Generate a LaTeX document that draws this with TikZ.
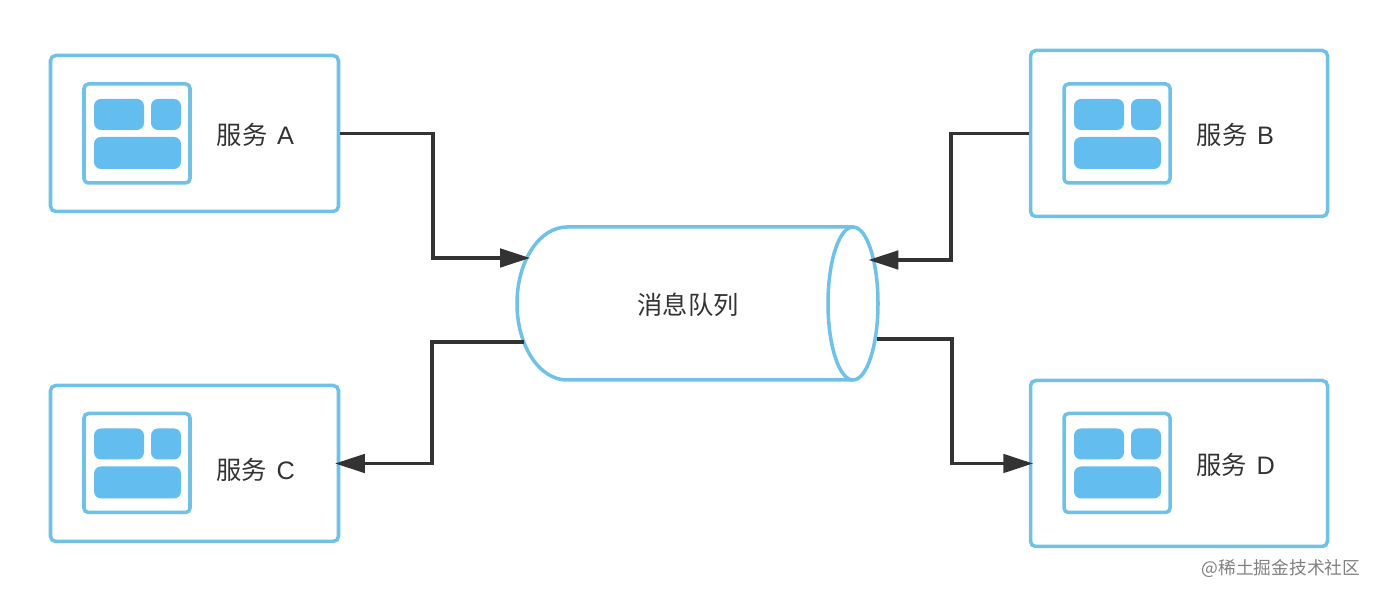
\documentclass[tikz,border=0pt]{standalone}
\usepackage{xcolor}
\usepackage{fontspec}
\setmainfont{Noto Sans CJK SC}
\newfontfamily\latinfont{Liberation Sans}
\usetikzlibrary{arrows.meta,positioning}
\definecolor{INK}{HTML}{333333}
\definecolor{SUB}{HTML}{808080}
\definecolor{EDGE}{HTML}{6FC1E8}
\definecolor{BLOCK}{HTML}{63BDEF}

\begin{document}
\begin{tikzpicture}[
  svc/.style={rectangle, rounded corners=3pt, draw=EDGE, line width=2pt, fill=white, inner sep=0pt},
  icon/.style={rectangle, rounded corners=2.5pt, draw=EDGE, line width=2pt, fill=white, minimum width=2.12cm, minimum height=1.98cm, inner sep=0pt},
  block/.style={rectangle, rounded corners=4pt, fill=BLOCK, inner sep=0pt},
  lab/.style={font=\fontsize{14.4}{17}\selectfont, text=INK, inner sep=0pt},
  link/.style={-{Triangle[length=17pt, width=10.5pt]}, INK, line width=2pt},
]
\useasboundingbox (0,0) rectangle (27.56,11.96);

% ===== services =====
\foreach \n/\x/\y/\w/\h/\ix/\iy/\lx/\ly in {
  A/3.89/9.29/5.76/3.12/2.74/9.29/5.11/9.26,
  B/23.58/9.29/5.94/3.32/22.34/9.29/24.71/9.26,
  C/3.89/2.69/5.76/3.12/2.74/2.70/5.11/2.56,
  D/23.58/2.69/5.94/3.32/22.34/2.70/24.71/2.66} {
  \node[svc, minimum width=\w cm, minimum height=\h cm] (svc\n) at (\x, \y) {};
  \node[icon] (icon\n) at (\ix, \iy) {};
  \node[block, minimum width=1.0cm, minimum height=0.62cm] (bl\n) at (\ix-0.36, \iy+0.38) {};
  \node[block, minimum width=0.6cm, minimum height=0.62cm] (br\n) at (\ix+0.58, \iy+0.38) {};
  \node[block, minimum width=1.74cm, minimum height=0.64cm] (bb\n) at (\ix+0.01, \iy-0.39) {};
  \node[lab] (lab\n) at (\lx, \ly) {服务\hspace{5.5pt}{\latinfont\n}};
}

% ===== queue =====
\draw[EDGE, line width=2pt, fill=white] (17.06, 7.42) -- (11.34, 7.42)
  arc[start angle=90, end angle=270, x radius=1, y radius=1.53] -- (17.06, 4.36);
\draw[EDGE, line width=2pt, fill=white] (17.06, 5.89) ellipse[x radius=0.5, y radius=1.53];
\node[lab] (queue) at (13.76, 5.86) {消息队列};

% connector ends on the queue
\coordinate (qA) at (10.60, 6.80);
\coordinate (qB) at (17.37, 6.76);
\coordinate (qC) at (10.48, 5.12);
\coordinate (qD) at (17.54, 5.18);
\coordinate (bendA) at (8.66, 6.80);
\coordinate (bendB) at (19.02, 6.76);
\coordinate (bendC) at (8.64, 5.12);
\coordinate (bendD) at (19.04, 5.18);

% ===== connectors =====
\draw[link] (svcA.east) -| (bendA) -- (qA);
\draw[link] (svcB.west) -| (bendB) -- (qB);
\draw[link, shorten >=-3pt] (qC) -- (bendC) |- (svcC.east);
\draw[link, shorten >=-2.5pt] (qD) -- (bendD) |- (svcD.west);

\node[font=\fontsize{10.1}{13}\selectfont, text=SUB, inner sep=0pt] (mark) at (25.62, 0.58) {@稀土掘金技术社区};

\end{tikzpicture}
\end{document}
